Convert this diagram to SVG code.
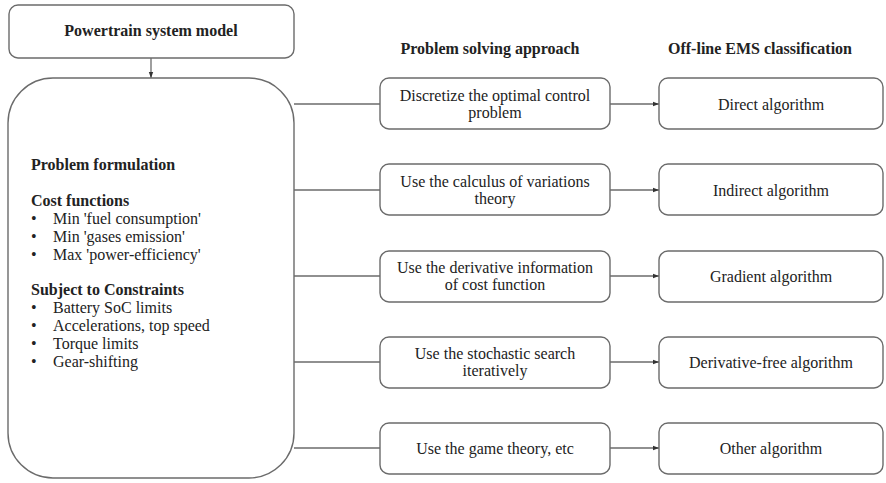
<svg xmlns="http://www.w3.org/2000/svg" width="886" height="483" viewBox="0 0 886 483" font-family="'Liberation Serif', serif">
  <style>
    .box { fill: #ffffff; stroke: #6b6b6b; stroke-width: 1.4; }
    .wire { fill: none; stroke: #6b6b6b; stroke-width: 1.3; }
    text { font-family: 'Liberation Serif', serif; font-size: 16px; font-weight: normal; fill: #222222; }
    text.b { font-weight: bold; }
    .c { text-anchor: middle; }
  </style>
  <defs>
    <marker id="arrow" viewBox="0 0 6 6" refX="6" refY="3" markerWidth="6" markerHeight="6" orient="auto" markerUnits="userSpaceOnUse">
      <path d="M0,0.8 L6,3 L0,5.2 Z" fill="#333333"/>
    </marker>
  </defs>
  <rect width="886" height="483" fill="#ffffff"/>

  <!-- column headers -->
  <text class="b c" x="490" y="54">Problem solving approach</text>
  <text class="b c" x="760" y="54">Off-line EMS classification</text>

  <!-- connectors -->
  <g id="connectors">
    <line class="wire" x1="151" y1="58" x2="151" y2="78" marker-end="url(#arrow)"/>
    <line class="wire" x1="294" y1="104" x2="380" y2="104"/>
    <line class="wire" x1="294" y1="190" x2="380" y2="190"/>
    <line class="wire" x1="294" y1="276" x2="380" y2="276"/>
    <line class="wire" x1="294" y1="362" x2="380" y2="362"/>
    <line class="wire" x1="294" y1="448" x2="380" y2="448"/>
    <line class="wire" x1="610" y1="104" x2="659" y2="104" marker-end="url(#arrow)"/>
    <line class="wire" x1="610" y1="190" x2="659" y2="190" marker-end="url(#arrow)"/>
    <line class="wire" x1="610" y1="276" x2="659" y2="276" marker-end="url(#arrow)"/>
    <line class="wire" x1="610" y1="362" x2="659" y2="362" marker-end="url(#arrow)"/>
    <line class="wire" x1="610" y1="448" x2="659" y2="448" marker-end="url(#arrow)"/>
  </g>

  <!-- model and formulation -->
  <g id="powertrain-model">
    <rect class="box" x="9" y="5" width="285" height="53" rx="9"/>
    <text class="b c" x="151" y="36">Powertrain system model</text>
  </g>

  <g id="problem-formulation">
    <rect class="box" x="8" y="78" width="286" height="400" rx="45"/>
    <text class="b" x="31" y="170">Problem formulation</text>
    <text class="b" x="31" y="206">Cost functions</text>
    <text x="31" y="224">•</text><text x="53" y="224">Min 'fuel consumption'</text>
    <text x="31" y="242">•</text><text x="53" y="242">Min 'gases emission'</text>
    <text x="31" y="260">•</text><text x="53" y="260">Max 'power-efficiency'</text>
    <text class="b" x="31" y="295">Subject to Constraints</text>
    <text x="31" y="313">•</text><text x="53" y="313">Battery SoC limits</text>
    <text x="31" y="331">•</text><text x="53" y="331">Accelerations, top speed</text>
    <text x="31" y="349">•</text><text x="53" y="349">Torque limits</text>
    <text x="31" y="367">•</text><text x="53" y="367">Gear-shifting</text>
  </g>

  <!-- solving approaches -->
  <g id="approach-discretize">
    <rect class="box" x="380" y="78" width="230" height="51" rx="9"/>
    <text class="c" x="495" y="101">Discretize the optimal control</text>
    <text class="c" x="495" y="118">problem</text>
  </g>
  <g id="approach-variations">
    <rect class="box" x="380" y="164" width="230" height="51" rx="9"/>
    <text class="c" x="495" y="187">Use the calculus of variations</text>
    <text class="c" x="495" y="204">theory</text>
  </g>
  <g id="approach-derivative">
    <rect class="box" x="380" y="251" width="230" height="51" rx="9"/>
    <text class="c" x="495" y="273">Use the derivative information</text>
    <text class="c" x="495" y="290">of cost function</text>
  </g>
  <g id="approach-stochastic">
    <rect class="box" x="380" y="337" width="230" height="51" rx="9"/>
    <text class="c" x="495" y="359">Use the stochastic search</text>
    <text class="c" x="495" y="376">iteratively</text>
  </g>
  <g id="approach-game">
    <rect class="box" x="380" y="423" width="230" height="51" rx="9"/>
    <text class="c" x="495" y="454">Use the game theory, etc</text>
  </g>

  <!-- EMS classes -->
  <g id="class-direct">
    <rect class="box" x="659" y="78" width="224" height="51" rx="9"/>
    <text class="c" x="771" y="110">Direct algorithm</text>
  </g>
  <g id="class-indirect">
    <rect class="box" x="659" y="164" width="224" height="51" rx="9"/>
    <text class="c" x="771" y="196">Indirect algorithm</text>
  </g>
  <g id="class-gradient">
    <rect class="box" x="659" y="251" width="224" height="51" rx="9"/>
    <text class="c" x="771" y="282">Gradient algorithm</text>
  </g>
  <g id="class-derivative-free">
    <rect class="box" x="659" y="337" width="224" height="51" rx="9"/>
    <text class="c" x="771" y="368">Derivative-free algorithm</text>
  </g>
  <g id="class-other">
    <rect class="box" x="659" y="423" width="224" height="51" rx="9"/>
    <text class="c" x="771" y="454">Other algorithm</text>
  </g>
</svg>
